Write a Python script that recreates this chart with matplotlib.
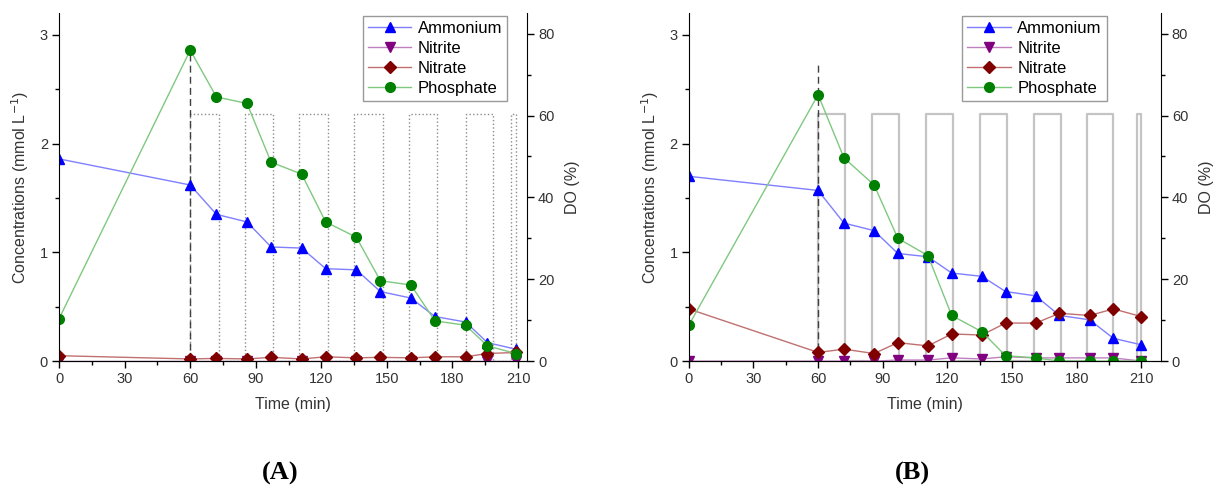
import matplotlib
matplotlib.use("Agg")
import matplotlib.pyplot as plt
from matplotlib.ticker import MultipleLocator

plt.rcParams["font.family"] = ["Liberation Sans", "DejaVu Sans"]

# ---- panel A ----
time_a = [0, 60, 72, 86, 97, 111, 122, 136, 147, 161, 172, 186, 196, 209]
ammonium_a = [1.86, 1.62, 1.35, 1.28, 1.05, 1.04, 0.85, 0.84, 0.64, 0.58, 0.41, 0.36, 0.17, 0.11]
nitrite_a = [0.0, 0.0, 0.0, 0.0, 0.0, 0.0, 0.0, 0.0, 0.0, 0.0, 0.0, 0.0, 0.0, 0.0]
nitrate_a = [0.05, 0.02, 0.025, 0.02, 0.035, 0.02, 0.04, 0.03, 0.035, 0.03, 0.04, 0.04, 0.07, 0.08]
phosphate_a = [0.39, 2.86, 2.43, 2.37, 1.83, 1.72, 1.28, 1.14, 0.74, 0.70, 0.37, 0.33, 0.14, 0.07]
aeration_a = [(60, 73), (85, 98), (110, 123), (135, 148), (160, 173), (186, 198.5), (207, 209)]
anaerobic_end_a = 2.86

# ---- panel B ----
time_b = [0, 60, 72, 86, 97, 111, 122, 136, 147, 161, 172, 186, 197, 210]
ammonium_b = [1.70, 1.57, 1.27, 1.20, 0.99, 0.96, 0.81, 0.78, 0.64, 0.60, 0.42, 0.38, 0.21, 0.15]
nitrite_b = [0.0, 0.0, 0.0, 0.0, 0.01, 0.01, 0.03, 0.02, 0.04, 0.03, 0.03, 0.03, 0.03, 0.0]
nitrate_b = [0.48, 0.08, 0.11, 0.07, 0.17, 0.14, 0.25, 0.24, 0.35, 0.35, 0.44, 0.42, 0.48, 0.41]
phosphate_b = [0.33, 2.45, 1.87, 1.62, 1.13, 0.97, 0.42, 0.27, 0.05, 0.03, 0.0, 0.0, 0.0, 0.0]
aeration_b = [(60, 72.5), (85, 97.5), (110, 122.5), (135, 147.5), (160, 172.5), (185, 197), (208, 210)]
anaerobic_end_b = 2.74

do_high = 60.5

series = [
    ("Ammonium", "^", "#0000ff", "#7f7fff"),
    ("Nitrite", "v", "#800080", "#c080c0"),
    ("Nitrate", "D", "#800000", "#c07070"),
    ("Phosphate", "o", "#008000", "#80c880"),
]


def draw_panel(rect, time, values, aeration, vline_top, xmax, do_style, legend_anchor, tag, tag_x):
    ax = fig.add_axes(rect)
    ax2 = ax.twinx()
    ax.set_zorder(ax2.get_zorder() + 1)
    ax.patch.set_visible(False)

    # DO square wave from aeration intervals
    do_x, do_y = [], []
    for t0, t1 in aeration:
        do_x += [t0, t0, t1, t1]
        do_y += [0, do_high, do_high, 0]
    ax2.plot(do_x, do_y, **do_style)

    ax.plot([60, 60], [0, vline_top], color="#404040", lw=1.0, dashes=(5, 3))

    for (label, marker, mcolor, lcolor), vals in zip(series, values):
        ms = 6 if marker == "D" else 7
        ax.plot(time, vals, color=lcolor, lw=1.0, marker=marker, ms=ms,
                markerfacecolor=mcolor, markeredgecolor=mcolor, label=label)

    ax.set_xlim(0, xmax)
    ax.set_ylim(0, 3.2)
    ax2.set_ylim(0, 85)
    ax.xaxis.set_major_locator(MultipleLocator(30))
    ax.xaxis.set_minor_locator(MultipleLocator(15))
    ax.yaxis.set_major_locator(MultipleLocator(1))
    ax.yaxis.set_minor_locator(MultipleLocator(0.5))
    ax2.yaxis.set_major_locator(MultipleLocator(20))
    ax2.yaxis.set_minor_locator(MultipleLocator(10))
    for a in (ax, ax2):
        a.spines["top"].set_visible(False)
        a.tick_params(which="major", direction="out", length=5, width=1, labelsize=10.5,
                      labelcolor="#333333", pad=3)
        a.tick_params(which="minor", direction="out", length=3, width=1)
    ax.spines["right"].set_visible(False)
    ax2.spines["left"].set_visible(False)

    ax.set_xlabel("Time (min)", fontsize=11.5, color="#333333", labelpad=8)
    ax.set_ylabel("Concentrations (mmol L$^{-1}$)", fontsize=11.5, color="#333333", labelpad=6)
    ax2.set_ylabel("DO (%)", fontsize=11.5, color="#333333", labelpad=8)

    leg = ax.legend(loc="upper right", bbox_to_anchor=legend_anchor,
                    bbox_transform=fig.transFigure, fontsize=12, frameon=True,
                    fancybox=False, edgecolor="#808080", handlelength=2.6,
                    labelspacing=0.3, borderpad=0.3, handletextpad=0.4)
    leg.get_frame().set_linewidth(1.0)

    fig.text(tag_x, 0.022, tag, fontsize=19, fontweight="bold",
             family="Liberation Serif", ha="center")


fig = plt.figure(figsize=(12.18, 4.90), dpi=100)

draw_panel([0.0485, 0.263, 0.384, 0.71], time_a,
           [ammonium_a, nitrite_a, nitrate_a, phosphate_a], aeration_a,
           anaerobic_end_a, 214,
           dict(color="#8c8c8c", lw=1.0, linestyle=":"),
           (0.4235, 0.985), "(A)", 0.230)

draw_panel([0.5655, 0.263, 0.3875, 0.71], time_b,
           [ammonium_b, nitrite_b, nitrate_b, phosphate_b], aeration_b,
           anaerobic_end_b, 219,
           dict(color="#c4c4c4", lw=1.6, linestyle="-"),
           (0.9155, 0.985), "(B)", 0.749)

fig.savefig("out.png", dpi=100)
